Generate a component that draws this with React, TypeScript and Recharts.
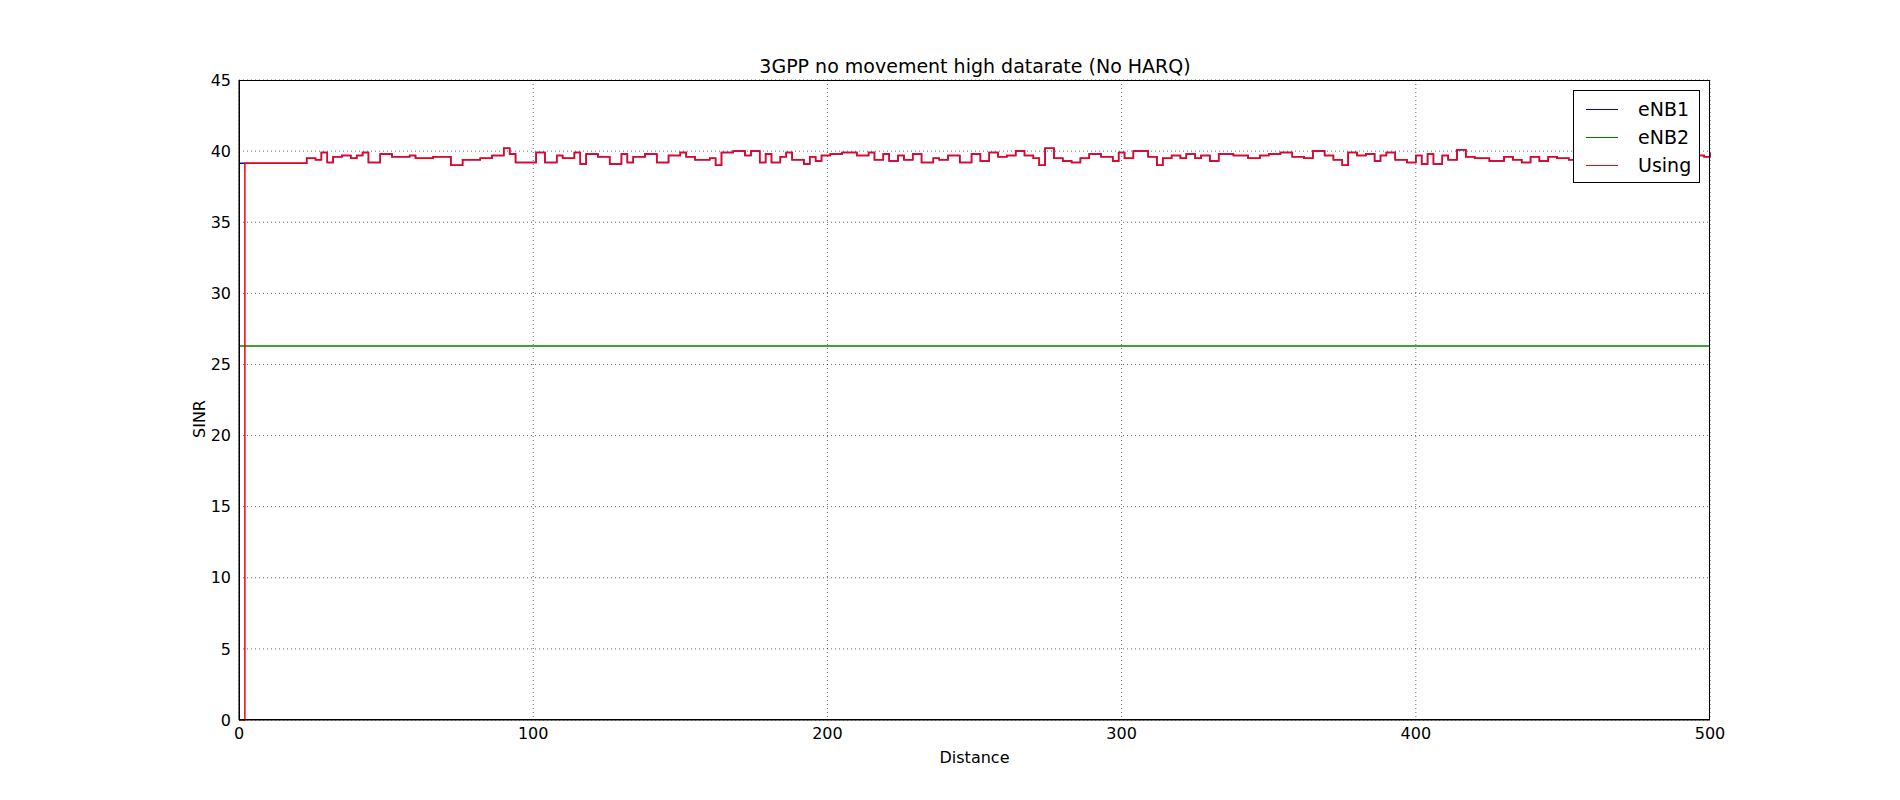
import React from 'react'
import { LineChart, Line, XAxis, YAxis, CartesianGrid } from 'recharts'

const distance = [
  0, 2, 23, 26, 28, 30, 32, 35, 38, 40, 42, 44, 48, 52, 58, 60, 66, 72, 76, 82, 86, 90, 92, 94, 101,
  104, 108, 110, 114, 116, 118, 122, 126, 130, 132, 134, 138, 142, 146, 150, 152, 155, 160, 162, 164,
  168, 172, 174, 177, 179, 181, 184, 186, 188, 192, 194, 196, 198, 201, 205, 210, 214, 216, 219, 221,
  224, 226, 229, 232, 236, 238, 241, 245, 249, 252, 255, 258, 261, 264, 267, 270, 272, 274, 277, 280,
  283, 286, 289, 293, 297, 299, 301, 304, 309, 312, 314, 317, 320, 322, 325, 327, 330, 333, 338, 343,
  347, 350, 354, 358, 362, 365, 369, 372, 375, 377, 380, 383, 386, 388, 390, 393, 397, 400, 402, 404,
  406, 409, 411, 414, 417, 420, 425, 430, 433, 436, 439, 442, 445, 448, 452, 456, 460, 464, 468, 472,
  476, 480, 484, 488, 492, 496, 498, 500,
]
const enb1Sinr = [
  39.15, 39.15, 39.5, 39.4, 39.9, 39.2, 39.6, 39.7, 39.5, 39.7, 39.9, 39.2, 39.8, 39.6, 39.7, 39.5, 39.6,
  39.0, 39.4, 39.5, 39.7, 40.2, 39.8, 39.2, 39.9, 39.2, 39.7, 39.5, 39.9, 39.1, 39.8, 39.6, 39.1, 39.8,
  39.2, 39.6, 39.8, 39.2, 39.7, 39.9, 39.6, 39.4, 39.5, 39.0, 39.9, 40.0, 39.7, 40.0, 39.2, 39.8, 39.2,
  39.6, 39.9, 39.4, 39.1, 39.6, 39.3, 39.7, 39.8, 39.9, 39.7, 39.9, 39.4, 39.8, 39.3, 39.7, 39.4, 39.8,
  39.2, 39.5, 39.4, 39.7, 39.2, 39.8, 39.3, 39.9, 39.6, 39.7, 40.0, 39.7, 39.5, 39.0, 40.2, 39.5, 39.3,
  39.2, 39.5, 39.8, 39.6, 39.3, 39.9, 39.5, 40.0, 39.6, 39.0, 39.5, 39.7, 39.5, 39.8, 39.5, 39.7, 39.3,
  39.8, 39.7, 39.5, 39.7, 39.8, 39.9, 39.6, 39.5, 40.0, 39.7, 39.4, 39.0, 39.9, 39.7, 39.8, 39.3, 39.7,
  39.9, 39.4, 39.2, 39.7, 39.1, 39.8, 39.1, 39.7, 39.4, 40.1, 39.6, 39.5, 39.3, 39.6, 39.4, 39.2, 39.6,
  39.3, 39.6, 39.5, 39.4, 39.6, 39.5, 39.8, 39.6, 39.4, 39.7, 39.5, 39.6, 39.8, 39.5, 39.7, 39.6, 39.9,
  39.6, 39.6,
]
const enb2Sinr = 26.3
const xTicks = [0, 100, 200, 300, 400, 500]
const yTicks = [0, 5, 10, 15, 20, 25, 30, 35, 40, 45]
const legendItems = [
  { name: 'eNB1', color: '#0000ff' },
  { name: 'eNB2', color: '#008000' },
  { name: 'Using', color: '#ff0000' },
]

const rows = distance.map((d, i) => ({
  distance: d,
  enb1: enb1Sinr[i],
  enb2: enb2Sinr,
  using: i === 0 ? 0 : enb1Sinr[i],
}))

const font = 'DejaVu Sans, sans-serif'

export default function App() {
  return (
    <div style={{ position: 'absolute', left: 0, top: 0, width: 1900, height: 800, background: '#fff', fontFamily: font }}>
      <div style={{ position: 'absolute', top: 55, width: 1900, paddingLeft: 50, boxSizing: 'border-box', textAlign: 'center', fontSize: 19, color: '#000' }}>
        3GPP no movement high datarate (No HARQ)
      </div>
      <LineChart width={1900} height={800} data={rows} margin={{ top: 80, right: 190, left: 0, bottom: 0 }}>
        <CartesianGrid stroke="#000" strokeDasharray="1 3" strokeOpacity={0.6} />
        <XAxis
          dataKey="distance"
          type="number"
          domain={[0, 500]}
          ticks={xTicks}
          height={80}
          stroke="#000"
          tick={{ fill: '#000', fontSize: 16, fontFamily: font }}
          tickLine={false}
          label={{ value: 'Distance', position: 'insideTop', offset: 32, fill: '#000', fontSize: 16, fontFamily: font }}
        />
        <YAxis
          type="number"
          domain={[0, 45]}
          ticks={yTicks}
          width={239}
          stroke="#000"
          tick={{ fill: '#000', fontSize: 16, fontFamily: font }}
          tickLine={false}
          label={{ value: 'SINR', angle: -90, position: 'insideRight', offset: 40, fill: '#000', fontSize: 16, fontFamily: font }}
        />
        <Line type="stepAfter" dataKey="enb1" name="eNB1" stroke="#0000ff" strokeWidth={1.5} dot={false} isAnimationActive={false} />
        <Line type="stepAfter" dataKey="enb2" name="eNB2" stroke="#008000" strokeWidth={1.5} dot={false} isAnimationActive={false} />
        <Line type="stepAfter" dataKey="using" name="Using" stroke="#ff0000" strokeWidth={1.5} dot={false} isAnimationActive={false} />
      </LineChart>
      <div style={{ position: 'absolute', left: 239, top: 80, width: 1471, height: 640, border: '1px solid #000', boxSizing: 'border-box', pointerEvents: 'none' }} />
      <div style={{ position: 'absolute', left: 1573, top: 90, width: 127, height: 93, border: '1px solid #000', boxSizing: 'border-box', background: '#fff', padding: '4px 0 0 12px', fontSize: 19, color: '#000' }}>
        {legendItems.map((it) => (
          <div key={it.name} style={{ display: 'flex', alignItems: 'center', height: 28 }}>
            <span style={{ display: 'inline-block', width: 32, borderTop: `1.5px solid ${it.color}`, marginRight: 20 }} />
            {it.name}
          </div>
        ))}
      </div>
    </div>
  )
}
